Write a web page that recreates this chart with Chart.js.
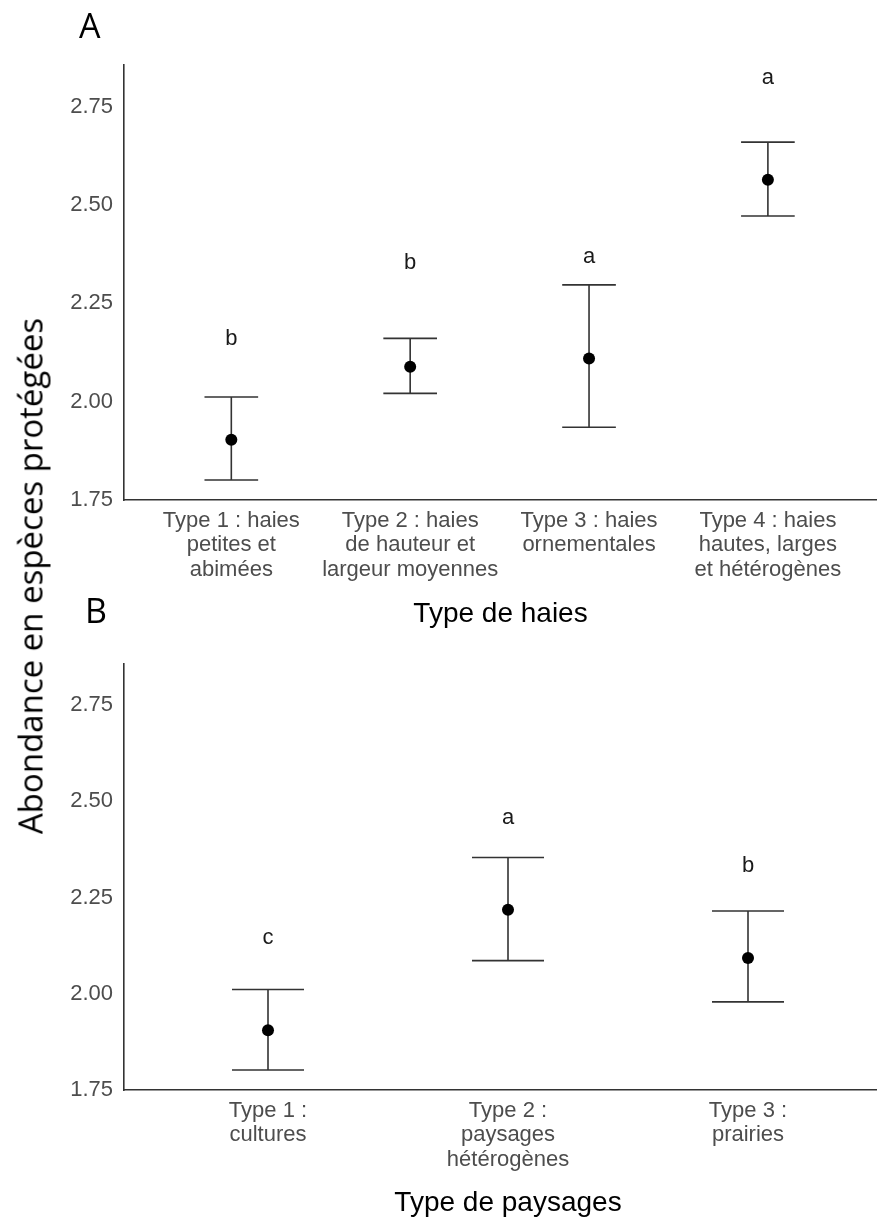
<!DOCTYPE html>
<html>
<head>
<meta charset="utf-8">
<script src="https://cdn.jsdelivr.net/npm/chart.js@4.4.1/dist/chart.umd.min.js"></script>
<style>
  html, body { margin: 0; padding: 0; background: #ffffff; width: 877px; height: 1221px; overflow: hidden; position: relative; }
  canvas { position: absolute; left: 0; }
  #cA { top: 0px; }
  #cB { top: 640px; }
  .panel { position: absolute; font-family: "Open Sans", sans-serif; font-size: 34px; color: #000; line-height: 1; }
  #ytitle { position: absolute; left: 30px; top: 576px; transform: translate(-50%, -50%) rotate(-90deg);
            white-space: nowrap; font-family: "Open Sans", sans-serif; font-size: 33px; color: #000; line-height: 1; }
</style>
</head>
<body>
<canvas id="cA" width="883" height="635"></canvas>
<canvas id="cB" width="898" height="581"></canvas>
<div class="panel" style="left:79px; top:8px;">A</div>
<div class="panel" style="left:85px; top:593px;">B</div>
<div id="ytitle">Abondance en espèces protégées</div>
<script>
// ---- Panel A data (type de haies) ----
const categoriesA = [
  ["Type 1 : haies", "petites et", "abimées"],
  ["Type 2 : haies", "de hauteur et", "largeur moyennes"],
  ["Type 3 : haies", "ornementales"],
  ["Type 4 : haies", "hautes, larges", "et hétérogènes"]
];
const meansA   = [1.903, 2.089, 2.110, 2.564];
const lowerA   = [1.801, 2.021, 1.935, 2.472];
const upperA   = [2.012, 2.161, 2.297, 2.660];
const lettersA = ["b", "b", "a", "a"];
const letterYA = [2.160, 2.352, 2.369, 2.823];

// ---- Panel B data (type de paysages) ----
const categoriesB = [
  ["Type 1 :", "cultures"],
  ["Type 2 :", "paysages", "hétérogènes"],
  ["Type 3 :", "prairies"]
];
const meansB   = [1.905, 2.218, 2.093];
const lowerB   = [1.802, 2.086, 1.979];
const upperB   = [2.011, 2.354, 2.215];
const lettersB = ["c", "a", "b"];
const letterYB = [2.144, 2.456, 2.331];

// ---- Axis ticks ----
const yTicks = [1.75, 2.00, 2.25, 2.50, 2.75];
const xTitleA = "Type de haies";
const xTitleB = "Type de paysages";

const TICK_COLOR = "#4d4d4d";
const LINE_COLOR = "#333333";

function errorBarPlugin(lower, upper, letters, letterY) {
  return {
    id: "errbars",
    beforeDatasetsDraw(chart) {
      const xs = chart.scales.x, ys = chart.scales.y, ctx = chart.ctx;
      ctx.save();
      ctx.strokeStyle = LINE_COLOR;
      ctx.lineWidth = 1.6;
      ctx.lineCap = "butt";
      for (let i = 0; i < lower.length; i++) {
        const x = xs.getPixelForValue(i + 1);
        const xl = xs.getPixelForValue(i + 1 - 0.15);
        const xr = xs.getPixelForValue(i + 1 + 0.15);
        const yl = ys.getPixelForValue(lower[i]);
        const yu = ys.getPixelForValue(upper[i]);
        ctx.beginPath();
        ctx.moveTo(x, yl); ctx.lineTo(x, yu);
        ctx.moveTo(xl, yl); ctx.lineTo(xr, yl);
        ctx.moveTo(xl, yu); ctx.lineTo(xr, yu);
        ctx.stroke();
      }
      ctx.restore();
    },
    afterDatasetsDraw(chart) {
      const xs = chart.scales.x, ys = chart.scales.y, ctx = chart.ctx;
      ctx.save();
      ctx.fillStyle = "#1a1a1a";
      ctx.font = "22px 'Liberation Sans', Arial, sans-serif";
      ctx.textAlign = "center";
      ctx.textBaseline = "middle";
      for (let i = 0; i < letters.length; i++) {
        ctx.fillText(letters[i], xs.getPixelForValue(i + 1), ys.getPixelForValue(letterY[i]));
      }
      ctx.restore();
    }
  };
}

function makeChart(id, cats, means, lower, upper, letters, letterY, xmax, xTitle, padTop, axisH, titlePadBottom) {
  const ctx = document.getElementById(id).getContext("2d");
  return new Chart(ctx, {
    type: "scatter",
    data: {
      datasets: [{
        data: means.map((m, i) => ({ x: i + 1, y: m })),
        pointRadius: 6,
        pointHoverRadius: 6,
        pointBackgroundColor: "#000000",
        pointBorderWidth: 0,
        showLine: false
      }]
    },
    options: {
      responsive: false,
      animation: false,
      devicePixelRatio: 1,
      layout: { padding: { top: padTop, left: 0, right: 0, bottom: 0 } },
      plugins: { legend: { display: false }, tooltip: { enabled: false } },
      scales: {
        x: {
          type: "linear",
          min: 0.4,
          max: xmax,
          grid: { display: false, drawTicks: false },
          border: { display: true, color: LINE_COLOR, width: 1.6 },
          afterBuildTicks(scale) { scale.ticks = cats.map((c, i) => ({ value: i + 1 })); },
          afterFit(scale) { scale.height = axisH; },
          ticks: {
            autoSkip: false,
            maxRotation: 0,
            minRotation: 0,
            padding: 9,
            color: TICK_COLOR,
            font: { family: "'Liberation Sans', Arial, sans-serif", size: 22, lineHeight: 1.1 },
            callback(v) { return cats[Math.round(v) - 1]; }
          },
          title: {
            display: true,
            text: xTitle,
            color: "#000000",
            font: { family: "'Liberation Sans', Arial, sans-serif", size: 28, lineHeight: 1.2 },
            padding: { top: 0, bottom: titlePadBottom }
          }
        },
        y: {
          type: "linear",
          min: 1.75,
          max: 2.856,
          grid: { display: false, drawTicks: false },
          border: { display: true, color: LINE_COLOR, width: 1.6 },
          afterBuildTicks(scale) { scale.ticks = yTicks.map(v => ({ value: v })); },
          afterFit(scale) { scale.width = 124; },
          ticks: {
            padding: 11,
            color: TICK_COLOR,
            font: { family: "'Liberation Sans', Arial, sans-serif", size: 22 },
            callback(v) { return Number(v).toFixed(2); }
          }
        }
      }
    },
    plugins: [errorBarPlugin(lower, upper, letters, letterY)]
  });
}

makeChart("cA", categoriesA, meansA, lowerA, upperA, lettersA, letterYA, 4.61, xTitleA, 65, 135, 4);
makeChart("cB", categoriesB, meansB, lowerB, upperB, lettersB, letterYB, 3.6, xTitleB, 5, 131, 1);
</script>
</body>
</html>
